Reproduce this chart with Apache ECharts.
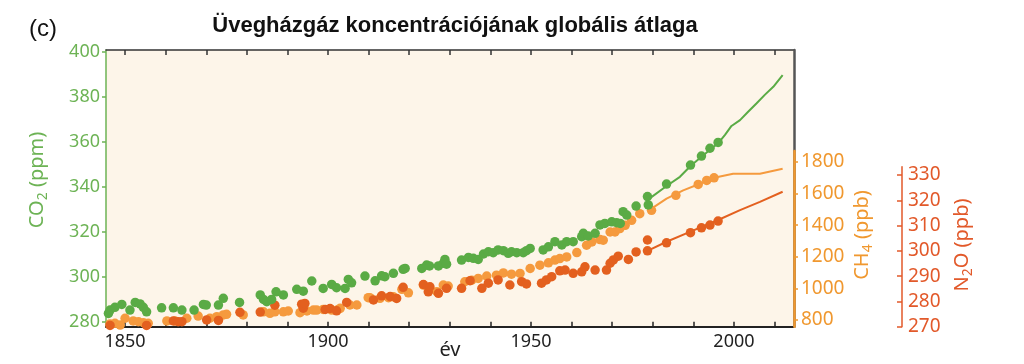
<!DOCTYPE html>
<html>
<head>
<meta charset="utf-8">
<script src="https://cdn.jsdelivr.net/npm/echarts@6/dist/echarts.min.js"></script>
<style>
html,body{margin:0;padding:0;background:#fff;}
#chart{width:1024px;height:364px;}
</style>
</head>
<body>
<div id="chart"></div>
<script>
// ---- data ----
const co2DotYears = [1845.9,1846.3,1847.5,1849.2,1851.2,1852.5,1853.7,1854.5,1855.3,1859,1861.9,1864,1867,1869.3,1870,1873,1874.2,1878.2,1883.3,1884.1,1884.9,1886.1,1887.2,1889,1892.3,1893.9,1896,1898.8,1900.9,1902.1,1904.2,1905,1905.8,1909.1,1911.6,1913.2,1914,1916.1,1918.5,1919,1923.1,1924.3,1925,1927.2,1928.4,1928.8,1929.2,1932.9,1934.6,1935.8,1937,1938.3,1939.5,1940.7,1941.9,1943.2,1944.4,1945.2,1946.5,1948.1,1948.9,1949.8,1953,1954.3,1955.9,1957.6,1958.8,1960.4,1962.5,1962.9,1964.1,1965.8,1967,1968.2,1969.9,1971.1,1972,1972.7,1973.6,1975.9,1978.7,1978.9,1983.4,1989.3,1992,1994.1,1996.1];
const co2DotValues = [283.7,285.2,286.4,287.7,285.2,288.6,287.9,286.4,284.4,286.2,286.2,285.2,285.2,287.7,287.4,287.4,290.4,288.6,291.9,289.9,288.9,289.9,293.3,291.9,294.4,293.6,298.1,294.8,296.6,295.1,294.8,298.8,297.3,300.3,298.2,300.4,300,301.5,303.3,303.7,303.7,305.2,304.8,304.8,306,307.7,305.6,307.4,308.6,308.2,307.7,310.1,311.1,310.7,311.9,311.6,310.4,311.1,310.7,310.7,311.6,312.6,311.9,313.3,315.6,314.1,315.6,315.6,317.8,319.3,318.1,319.3,323,323.7,324.4,324,323.7,328.9,327.4,331.4,335.6,331.9,341.2,349.6,353.6,357.1,359.7];
const co2LineYears = [1979,1983.4,1986.7,1989.3,1992,1996.1,1997.8,1999.4,2001.5,2003.5,2005.6,2007.6,2009.7,2012];
const co2LineValues = [334.5,340.3,344.4,349.2,353.3,359.3,363,367,369.6,373.3,377.1,380.8,384.4,389.6];

const ch4DotYears = [1846.3,1847.5,1848.8,1850,1852,1853.3,1854.5,1855.7,1860.3,1862.3,1865.2,1868,1870.9,1872.6,1874.2,1875,1879.1,1884.1,1885.7,1886.9,1889,1890.2,1893.1,1893.9,1894.8,1896.4,1897.2,1898.8,1900.9,1902.5,1903,1905.4,1907.1,1909.9,1910.3,1912.8,1914.9,1916.1,1918.2,1919.8,1923.5,1925.1,1926.8,1928.4,1929.6,1933.7,1935.4,1937,1939.1,1941.5,1943.2,1945.2,1947.3,1949.8,1952.2,1954.3,1955.9,1957.1,1958.8,1961.3,1963.7,1965,1967,1967.8,1969.5,1970.7,1971.9,1973.2,1974.8,1976.8,1979.7,1985.7,1991.2,1993.3,1995.1];
const ch4DotValues = [775,779,768,811,794,789,783,779,794,794,811,825,811,821,832,836,832,852,842,852,852,857,846,888,857,863,863,867,863,867,874,895,895,941,941,937,941,947,994,972,1021,994,979,1021,1015,1042,1052,1063,1078,1084,1098,1090,1095,1126,1147,1162,1179,1189,1199,1227,1273,1294,1309,1305,1357,1357,1379,1399,1431,1473,1494,1589,1658,1683,1700];
const ch4LineYears = [1979.7,1983.4,1987.5,1991.6,1995.7,1999.8,2006.4,2012];
const ch4LineValues = [1505,1568,1620,1662,1704,1726,1726,1757];

const n2oDotYears = [1846.3,1855.3,1861.9,1863.1,1864,1870.1,1873,1878.3,1883.3,1886.9,1893.5,1893.9,1894.3,1899.3,1900.5,1902.1,1904.6,1911.2,1913.2,1915.3,1916.9,1918.5,1923.5,1924.7,1925.1,1927.2,1929.2,1932.9,1935,1937.9,1939.5,1941.9,1944.8,1947.7,1948.9,1952.6,1953.8,1955.1,1957.1,1958.4,1960.4,1962.5,1963.3,1965.8,1968.6,1969.5,1970.3,1971.5,1974,1975.9,1978.7,1978.7,1983.4,1989.3,1992,1994.1,1996.1];
const n2oDotValues = [270.5,270.5,272.3,272,272,272.7,272.5,275.7,275.8,278.5,278.9,277.3,279.2,276.8,277.2,276.3,279.6,280.6,282.2,281.9,281.2,285.6,286.7,283.8,285.8,283.2,285.2,285.2,288.2,285.2,287.2,288.5,286.5,287.8,286.9,287.2,288.5,289.8,292.1,292.4,291.1,291.7,293.7,292.4,292.4,295.1,296.4,297.9,296.6,299.6,304.3,300,303.2,307.2,309.1,310.2,311.8];
const n2oLineYears = [1978.7,1983.4,1989.3,1996.1,2001.5,2006.4,2012];
const n2oLineValues = [300,303.6,307.6,312.2,316.1,319.4,323.4];

const xTickValues = [1850,1860,1870,1880,1890,1900,1910,1920,1930,1940,1950,1960,1970,1980,1990,2000,2010];
const xLabelValues = [1850,1900,1950,2000];
const co2Ticks = [280,300,320,340,360,380,400];
const ch4Ticks = [800,1000,1200,1400,1600,1800];
const n2oTicks = [270,280,290,300,310,320,330];

const titleText = 'Üvegházgáz koncentrációjának globális átlaga';
const panelText = '(c)';
const xName = 'év';

// ---- styling ----
const GREEN = '#5aab45', GREEN_T = '#6db355';
const LORANGE = '#f59a3e', LORANGE_T = '#f0982f';
const DORANGE = '#e3601f', DORANGE_T = '#e2592a';
const BG = '#fdf5e9';
const FONT = "'Noto Sans', 'Open Sans', sans-serif";
const plain = (v) => String(v);

const pairs = (xs, ys) => xs.map((x, i) => [x, ys[i]]);
const XMIN = 1845.3, XMAX = 2014.8;
const gridPos = {left: 106, right: 230, bottom: 37.3, outerBoundsMode: 'none', containLabel: false};

const chart = echarts.init(document.getElementById('chart'), null, {renderer: 'canvas'});
const hiddenX = (g) => ({type: 'value', gridIndex: g, min: XMIN, max: XMAX, show: false});

chart.setOption({
  animation: false,
  backgroundColor: '#fff',
  title: [
    {text: titleText, left: 450, top: 10, textAlign: 'center',
     textStyle: {fontFamily: "'Liberation Sans', Arial, sans-serif", fontWeight: 'bold', fontSize: 22, color: '#111'}},
    {text: panelText, left: 24, top: 12,
     textStyle: {fontFamily: "'Liberation Sans', Arial, sans-serif", fontWeight: 'normal', fontSize: 24, color: '#111'}}
  ],
  grid: [
    Object.assign({top: 50, show: true, backgroundColor: BG, borderWidth: 0}, gridPos),
    Object.assign({top: 151}, gridPos),
    Object.assign({top: 166.7}, gridPos)
  ],
  xAxis: [
    {type: 'value', gridIndex: 0, min: XMIN, max: XMAX, position: 'bottom',
     name: xName, nameLocation: 'middle', nameGap: 14, nameMoveOverlap: false,
     nameTextStyle: {fontFamily: FONT, fontSize: 20, color: '#222', verticalAlign: 'top'},
     axisLine: {lineStyle: {color: '#222', width: 2}},
     axisTick: {inside: true, length: 5, customValues: xTickValues, lineStyle: {color: '#222', width: 1.5}},
     axisLabel: {customValues: xLabelValues, formatter: plain, margin: 6, fontFamily: FONT, fontSize: 18, color: '#222'},
     splitLine: {show: false}},
    {type: 'value', gridIndex: 0, min: XMIN, max: XMAX, position: 'top',
     axisLine: {lineStyle: {color: '#333', width: 1.5}},
     axisTick: {inside: true, length: 5, customValues: xTickValues, lineStyle: {color: '#333', width: 1.5}},
     axisLabel: {show: false}, splitLine: {show: false}},
    hiddenX(1), hiddenX(2)
  ],
  yAxis: [
    {type: 'value', gridIndex: 0, position: 'left', min: 277.8, max: 400.75,
     axisLine: {show: true, lineStyle: {color: GREEN_T, width: 1.5}},
     axisTick: {show: true, length: 4, customValues: co2Ticks, lineStyle: {color: GREEN_T, width: 1.5}},
     axisLabel: {customValues: co2Ticks, formatter: plain, margin: 6, fontFamily: FONT, fontSize: 18, color: GREEN_T},
     splitLine: {show: false}},
    {type: 'value', gridIndex: 0, position: 'right', min: 277.8, max: 400.75, z: 1,
     axisLine: {show: true, lineStyle: {color: '#555', width: 2.5}},
     axisTick: {show: false}, axisLabel: {show: false}, splitLine: {show: false}},
    {type: 'value', gridIndex: 1, position: 'right', min: 757.6, max: 1869.6, z: 5,
     axisLine: {show: true, lineStyle: {color: LORANGE_T, width: 2.5}},
     axisTick: {show: true, length: 4, customValues: ch4Ticks, lineStyle: {color: LORANGE_T, width: 1.5}},
     axisLabel: {customValues: ch4Ticks, formatter: plain, margin: 7, fontFamily: FONT, fontSize: 19, color: LORANGE_T},
     splitLine: {show: false}},
    {type: 'value', gridIndex: 2, position: 'right', offset: 108, min: 270, max: 333.3,
     axisLine: {show: true, lineStyle: {color: DORANGE_T, width: 1.5}},
     axisTick: {show: true, inside: true, length: 5, customValues: n2oTicks, lineStyle: {color: DORANGE_T, width: 1.5}},
     axisLabel: {customValues: n2oTicks, formatter: plain, margin: 6, fontFamily: FONT, fontSize: 19, color: DORANGE_T},
     splitLine: {show: false}}
  ],
  graphic: [
    {type: 'text', x: 37, y: 180, rotation: Math.PI / 2,
     style: {text: '{a|CO}{s|2}{a| (ppm)}', align: 'center', verticalAlign: 'middle',
       rich: {a: {fontFamily: FONT, fontSize: 20, fill: GREEN_T, lineHeight: 26},
              s: {fontFamily: FONT, fontSize: 14, fill: GREEN_T, lineHeight: 14, verticalAlign: 'bottom'}}}},
    {type: 'text', x: 862, y: 235, rotation: Math.PI / 2,
     style: {text: '{a|CH}{s|4}{a| (ppb)}', align: 'center', verticalAlign: 'middle',
       rich: {a: {fontFamily: FONT, fontSize: 20, fill: LORANGE_T, lineHeight: 26},
              s: {fontFamily: FONT, fontSize: 14, fill: LORANGE_T, lineHeight: 14, verticalAlign: 'bottom'}}}},
    {type: 'text', x: 962, y: 245, rotation: Math.PI / 2,
     style: {text: '{a|N}{s|2}{a|O (ppb)}', align: 'center', verticalAlign: 'middle',
       rich: {a: {fontFamily: FONT, fontSize: 20, fill: DORANGE_T, lineHeight: 26},
              s: {fontFamily: FONT, fontSize: 14, fill: DORANGE_T, lineHeight: 14, verticalAlign: 'bottom'}}}}
  ],
  series: [
    {type: 'scatter', name: 'CH4', xAxisIndex: 2, yAxisIndex: 2, data: pairs(ch4DotYears, ch4DotValues),
     symbolSize: 9.5, itemStyle: {color: LORANGE, opacity: 1}, clip: false, z: 2},
    {type: 'line', xAxisIndex: 2, yAxisIndex: 2, data: pairs(ch4LineYears, ch4LineValues),
     showSymbol: false, lineStyle: {color: LORANGE, width: 2}, z: 2},
    {type: 'scatter', name: 'N2O', xAxisIndex: 3, yAxisIndex: 3, data: pairs(n2oDotYears, n2oDotValues),
     symbolSize: 9.5, itemStyle: {color: DORANGE, opacity: 1}, clip: false, z: 3},
    {type: 'line', xAxisIndex: 3, yAxisIndex: 3, data: pairs(n2oLineYears, n2oLineValues),
     showSymbol: false, lineStyle: {color: DORANGE, width: 2}, z: 3},
    {type: 'scatter', name: 'CO2', xAxisIndex: 0, yAxisIndex: 0, data: pairs(co2DotYears, co2DotValues),
     symbolSize: 9.5, itemStyle: {color: GREEN, opacity: 1}, clip: false, z: 4},
    {type: 'line', xAxisIndex: 0, yAxisIndex: 0, data: pairs(co2LineYears, co2LineValues),
     showSymbol: false, lineStyle: {color: GREEN, width: 2}, z: 4}
  ]
});
</script>
</body>
</html>
